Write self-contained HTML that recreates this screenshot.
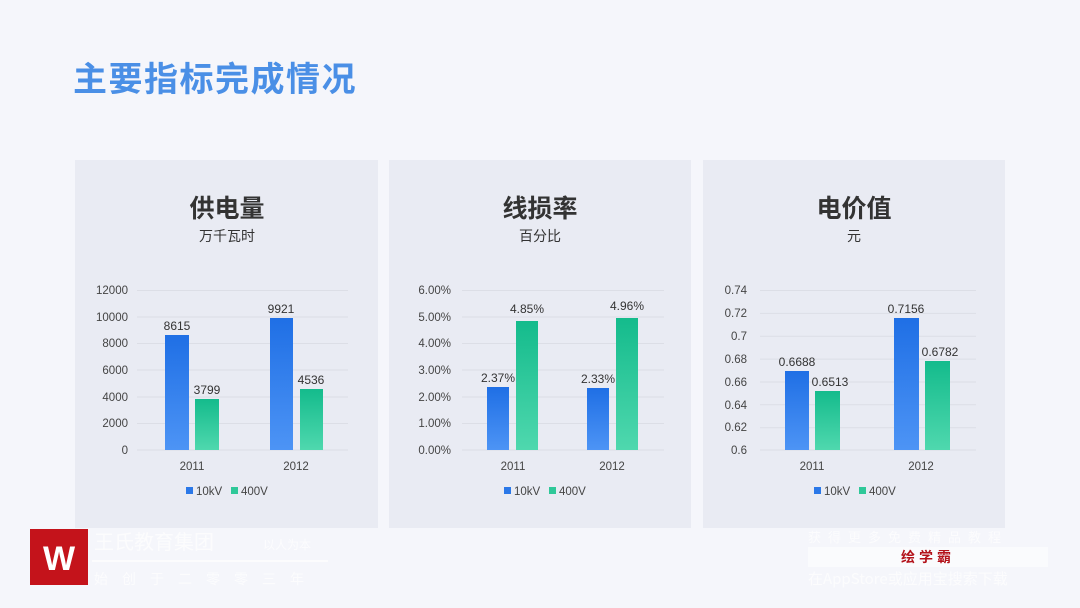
<!DOCTYPE html>
<html><head><meta charset="utf-8"><style>
html,body{margin:0;padding:0;background:#f5f6fb;}
body{width:1080px;height:608px;overflow:hidden;position:relative;font-family:"Liberation Sans","Noto Sans CJK SC",sans-serif;}
</style></head><body>
<svg width="1080" height="608" xmlns="http://www.w3.org/2000/svg" style="position:absolute;left:0;top:0" font-family="Liberation Sans, Noto Sans CJK SC, sans-serif">
<defs>
<linearGradient id="gb" x1="0" y1="0" x2="0" y2="1"><stop offset="0" stop-color="#1f6fe5"/><stop offset="1" stop-color="#4d94f5"/></linearGradient>
<linearGradient id="gg" x1="0" y1="0" x2="0" y2="1"><stop offset="0" stop-color="#14bb8c"/><stop offset="1" stop-color="#4fd8ae"/></linearGradient>
</defs>
<text x="73" y="91" font-size="34" font-weight="bold" fill="#4a8fe6" letter-spacing="1.5" font-family="Noto Sans CJK SC, sans-serif">主要指标完成情况</text>
<rect x="75" y="160" width="303" height="368" fill="#e9ebf3"/>
<rect x="389" y="160" width="302" height="368" fill="#e9ebf3"/>
<rect x="703" y="160" width="302" height="368" fill="#e9ebf3"/>

<g font-family="Noto Sans CJK SC, sans-serif" fill="#333" text-anchor="middle">
<text x="227" y="217" font-size="25" font-weight="bold">供电量</text>
<text x="227" y="241" font-size="14">万千瓦时</text>
<text x="540" y="217" font-size="25" font-weight="bold">线损率</text>
<text x="540" y="241" font-size="14">百分比</text>
<text x="854" y="217" font-size="25" font-weight="bold">电价值</text>
<text x="854" y="241" font-size="14">元</text>
</g>

<g stroke="#dcdee6" stroke-width="1">
<line x1="137" y1="290.5" x2="348" y2="290.5"/><line x1="137" y1="317" x2="348" y2="317"/><line x1="137" y1="343.5" x2="348" y2="343.5"/><line x1="137" y1="370" x2="348" y2="370"/><line x1="137" y1="397" x2="348" y2="397"/><line x1="137" y1="423.5" x2="348" y2="423.5"/><line x1="137" y1="450" x2="348" y2="450"/>
<line x1="462" y1="290.5" x2="664" y2="290.5"/><line x1="462" y1="317" x2="664" y2="317"/><line x1="462" y1="343.5" x2="664" y2="343.5"/><line x1="462" y1="370" x2="664" y2="370"/><line x1="462" y1="397" x2="664" y2="397"/><line x1="462" y1="423.5" x2="664" y2="423.5"/><line x1="462" y1="450" x2="664" y2="450"/>
<line x1="760" y1="290.5" x2="976" y2="290.5"/><line x1="760" y1="313.4" x2="976" y2="313.4"/><line x1="760" y1="336.3" x2="976" y2="336.3"/><line x1="760" y1="359.1" x2="976" y2="359.1"/><line x1="760" y1="382" x2="976" y2="382"/><line x1="760" y1="404.8" x2="976" y2="404.8"/><line x1="760" y1="427.7" x2="976" y2="427.7"/><line x1="760" y1="450" x2="976" y2="450"/>
</g>

<g font-size="11.5" fill="#444" text-anchor="end">
<text x="128" y="294">12000</text><text x="128" y="321">10000</text><text x="128" y="347">8000</text><text x="128" y="374">6000</text><text x="128" y="401">4000</text><text x="128" y="427">2000</text><text x="128" y="454">0</text>
<text x="451" y="294">6.00%</text><text x="451" y="321">5.00%</text><text x="451" y="347">4.00%</text><text x="451" y="374">3.00%</text><text x="451" y="401">2.00%</text><text x="451" y="427">1.00%</text><text x="451" y="454">0.00%</text>
<text x="747" y="294">0.74</text><text x="747" y="317">0.72</text><text x="747" y="340">0.7</text><text x="747" y="363">0.68</text><text x="747" y="386">0.66</text><text x="747" y="409">0.64</text><text x="747" y="431">0.62</text><text x="747" y="454">0.6</text>
</g>

<rect x="165" y="335" width="24" height="115" fill="url(#gb)"/>
<rect x="195" y="399" width="24" height="51" fill="url(#gg)"/>
<rect x="270" y="318" width="23" height="132" fill="url(#gb)"/>
<rect x="300" y="389" width="23" height="61" fill="url(#gg)"/>

<rect x="487" y="387" width="22" height="63" fill="url(#gb)"/>
<rect x="516" y="321" width="22" height="129" fill="url(#gg)"/>
<rect x="587" y="388" width="22" height="62" fill="url(#gb)"/>
<rect x="616" y="318" width="22" height="132" fill="url(#gg)"/>

<rect x="785" y="371" width="24" height="79" fill="url(#gb)"/>
<rect x="815" y="391" width="25" height="59" fill="url(#gg)"/>
<rect x="894" y="318" width="25" height="132" fill="url(#gb)"/>
<rect x="925" y="361" width="25" height="89" fill="url(#gg)"/>

<g font-size="12" fill="#333" text-anchor="middle">
<text x="177" y="330">8615</text><text x="207" y="394">3799</text><text x="281" y="313">9921</text><text x="311" y="384">4536</text>
<text x="498" y="382">2.37%</text><text x="527" y="313">4.85%</text><text x="598" y="383">2.33%</text><text x="627" y="310">4.96%</text>
<text x="797" y="366">0.6688</text><text x="830" y="386">0.6513</text><text x="906" y="313">0.7156</text><text x="940" y="356">0.6782</text>
</g>
<g font-size="11.5" fill="#444" text-anchor="middle">
<text x="192" y="470">2011</text><text x="296" y="470">2012</text>
<text x="513" y="470">2011</text><text x="612" y="470">2012</text>
<text x="812" y="470">2011</text><text x="921" y="470">2012</text>
</g>
<g font-size="11.5" fill="#444">
<rect x="186" y="487" width="7" height="7" fill="#2b78e8"/><text x="196" y="495">10kV</text>
<rect x="231" y="487" width="7" height="7" fill="#2fc899"/><text x="241" y="495">400V</text>
<rect x="504" y="487" width="7" height="7" fill="#2b78e8"/><text x="514" y="495">10kV</text>
<rect x="549" y="487" width="7" height="7" fill="#2fc899"/><text x="559" y="495">400V</text>
<rect x="814" y="487" width="7" height="7" fill="#2b78e8"/><text x="824" y="495">10kV</text>
<rect x="859" y="487" width="7" height="7" fill="#2fc899"/><text x="869" y="495">400V</text>
</g>

<rect x="30" y="529" width="58" height="56" fill="#c4131b"/>
<text x="59" y="570" font-size="34" font-weight="bold" fill="#fff" text-anchor="middle">W</text>
<g fill="#ffffff" opacity="0.7" font-family="Noto Sans CJK SC, sans-serif">
<text x="94" y="549" font-size="20">王氏教育集团</text>
<text x="263" y="549" font-size="12">以人为本</text>
<rect x="92" y="560" width="236" height="2"/>
<text x="94" y="584" font-size="14" letter-spacing="14">始创于二零零三年</text>
<text x="808" y="542" font-size="13" letter-spacing="7">获得更多免费精品教程</text>
<text x="808" y="584" font-size="15">在AppStore或应用宝搜索下载</text>
</g>
<rect x="808" y="547" width="240" height="20" fill="#fafbfd"/>
<text x="928" y="562" font-size="14" font-weight="bold" fill="#b3121a" text-anchor="middle" letter-spacing="4" font-family="Noto Sans CJK SC, sans-serif">绘学霸</text>
</svg>
</body></html>
